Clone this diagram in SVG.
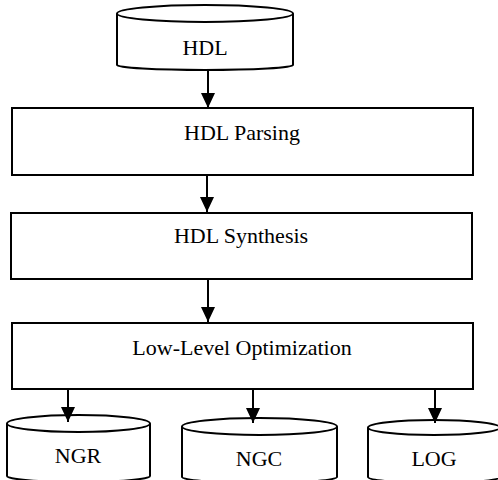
<svg xmlns="http://www.w3.org/2000/svg" width="498" height="480" viewBox="0 0 498 480">
<defs>
<style>
.s{fill:#fff;stroke:#000;stroke-width:2}
.t{font-family:"Liberation Serif","Times New Roman",serif;font-size:22px;fill:#000;text-anchor:middle}
.c{stroke:#000;stroke-width:2;fill:none}
</style>
<marker id="ah" markerUnits="userSpaceOnUse" markerWidth="15" markerHeight="15" refX="15" refY="7" orient="auto">
<path d="M0,0 L15,7 L0,14 Z" fill="#000"/>
</marker>
</defs>
<rect width="498" height="480" fill="#fff"/>
<g id="hdl">
<path class="s" d="M117,13.5 L117,65 A88,5 0 0 0 293,65 L293,13.5"/>
<ellipse class="s" cx="205" cy="13.5" rx="88" ry="8.5"/>
<text class="t" x="205" y="55">HDL</text>
</g>
<g id="parsing">
<rect class="s" x="12" y="108" width="461" height="67"/>
<text class="t" x="242" y="140">HDL Parsing</text>
</g>
<g id="synthesis">
<rect class="s" x="11" y="213" width="461" height="66"/>
<text class="t" x="241" y="243">HDL Synthesis</text>
</g>
<g id="optimization">
<rect class="s" x="12" y="323" width="461" height="66"/>
<text class="t" x="242" y="355">Low-Level Optimization</text>
</g>
<g id="ngr">
<path class="s" d="M7,423.5 L7,476 A71.5,6 0 0 0 150,476 L150,423.5"/>
<ellipse class="s" cx="78.5" cy="423.5" rx="71.5" ry="8.5"/>
<text class="t" x="78" y="463">NGR</text>
</g>
<g id="ngc">
<path class="s" d="M182,426.5 L182,477 A77.5,6 0 0 0 337,477 L337,426.5"/>
<ellipse class="s" cx="259.5" cy="426.5" rx="77.5" ry="8.5"/>
<text class="t" x="259" y="466">NGC</text>
</g>
<g id="log">
<path class="s" d="M368,427.5 L368,477 A66,6 0 0 0 500,477 L500,427.5"/>
<ellipse class="s" cx="434" cy="427.5" rx="66" ry="7.5"/>
<text class="t" x="434" y="466">LOG</text>
</g>
<g id="connectors">
<line class="c" x1="208" y1="70" x2="208" y2="108" marker-end="url(#ah)"/>
<line class="c" x1="207" y1="175" x2="207" y2="212" marker-end="url(#ah)"/>
<line class="c" x1="208" y1="279" x2="208" y2="322" marker-end="url(#ah)"/>
<line class="c" x1="68" y1="389" x2="68" y2="422" marker-end="url(#ah)"/>
<line class="c" x1="253" y1="389" x2="253" y2="423" marker-end="url(#ah)"/>
<line class="c" x1="435" y1="389" x2="435" y2="423" marker-end="url(#ah)"/>
</g>
</svg>
